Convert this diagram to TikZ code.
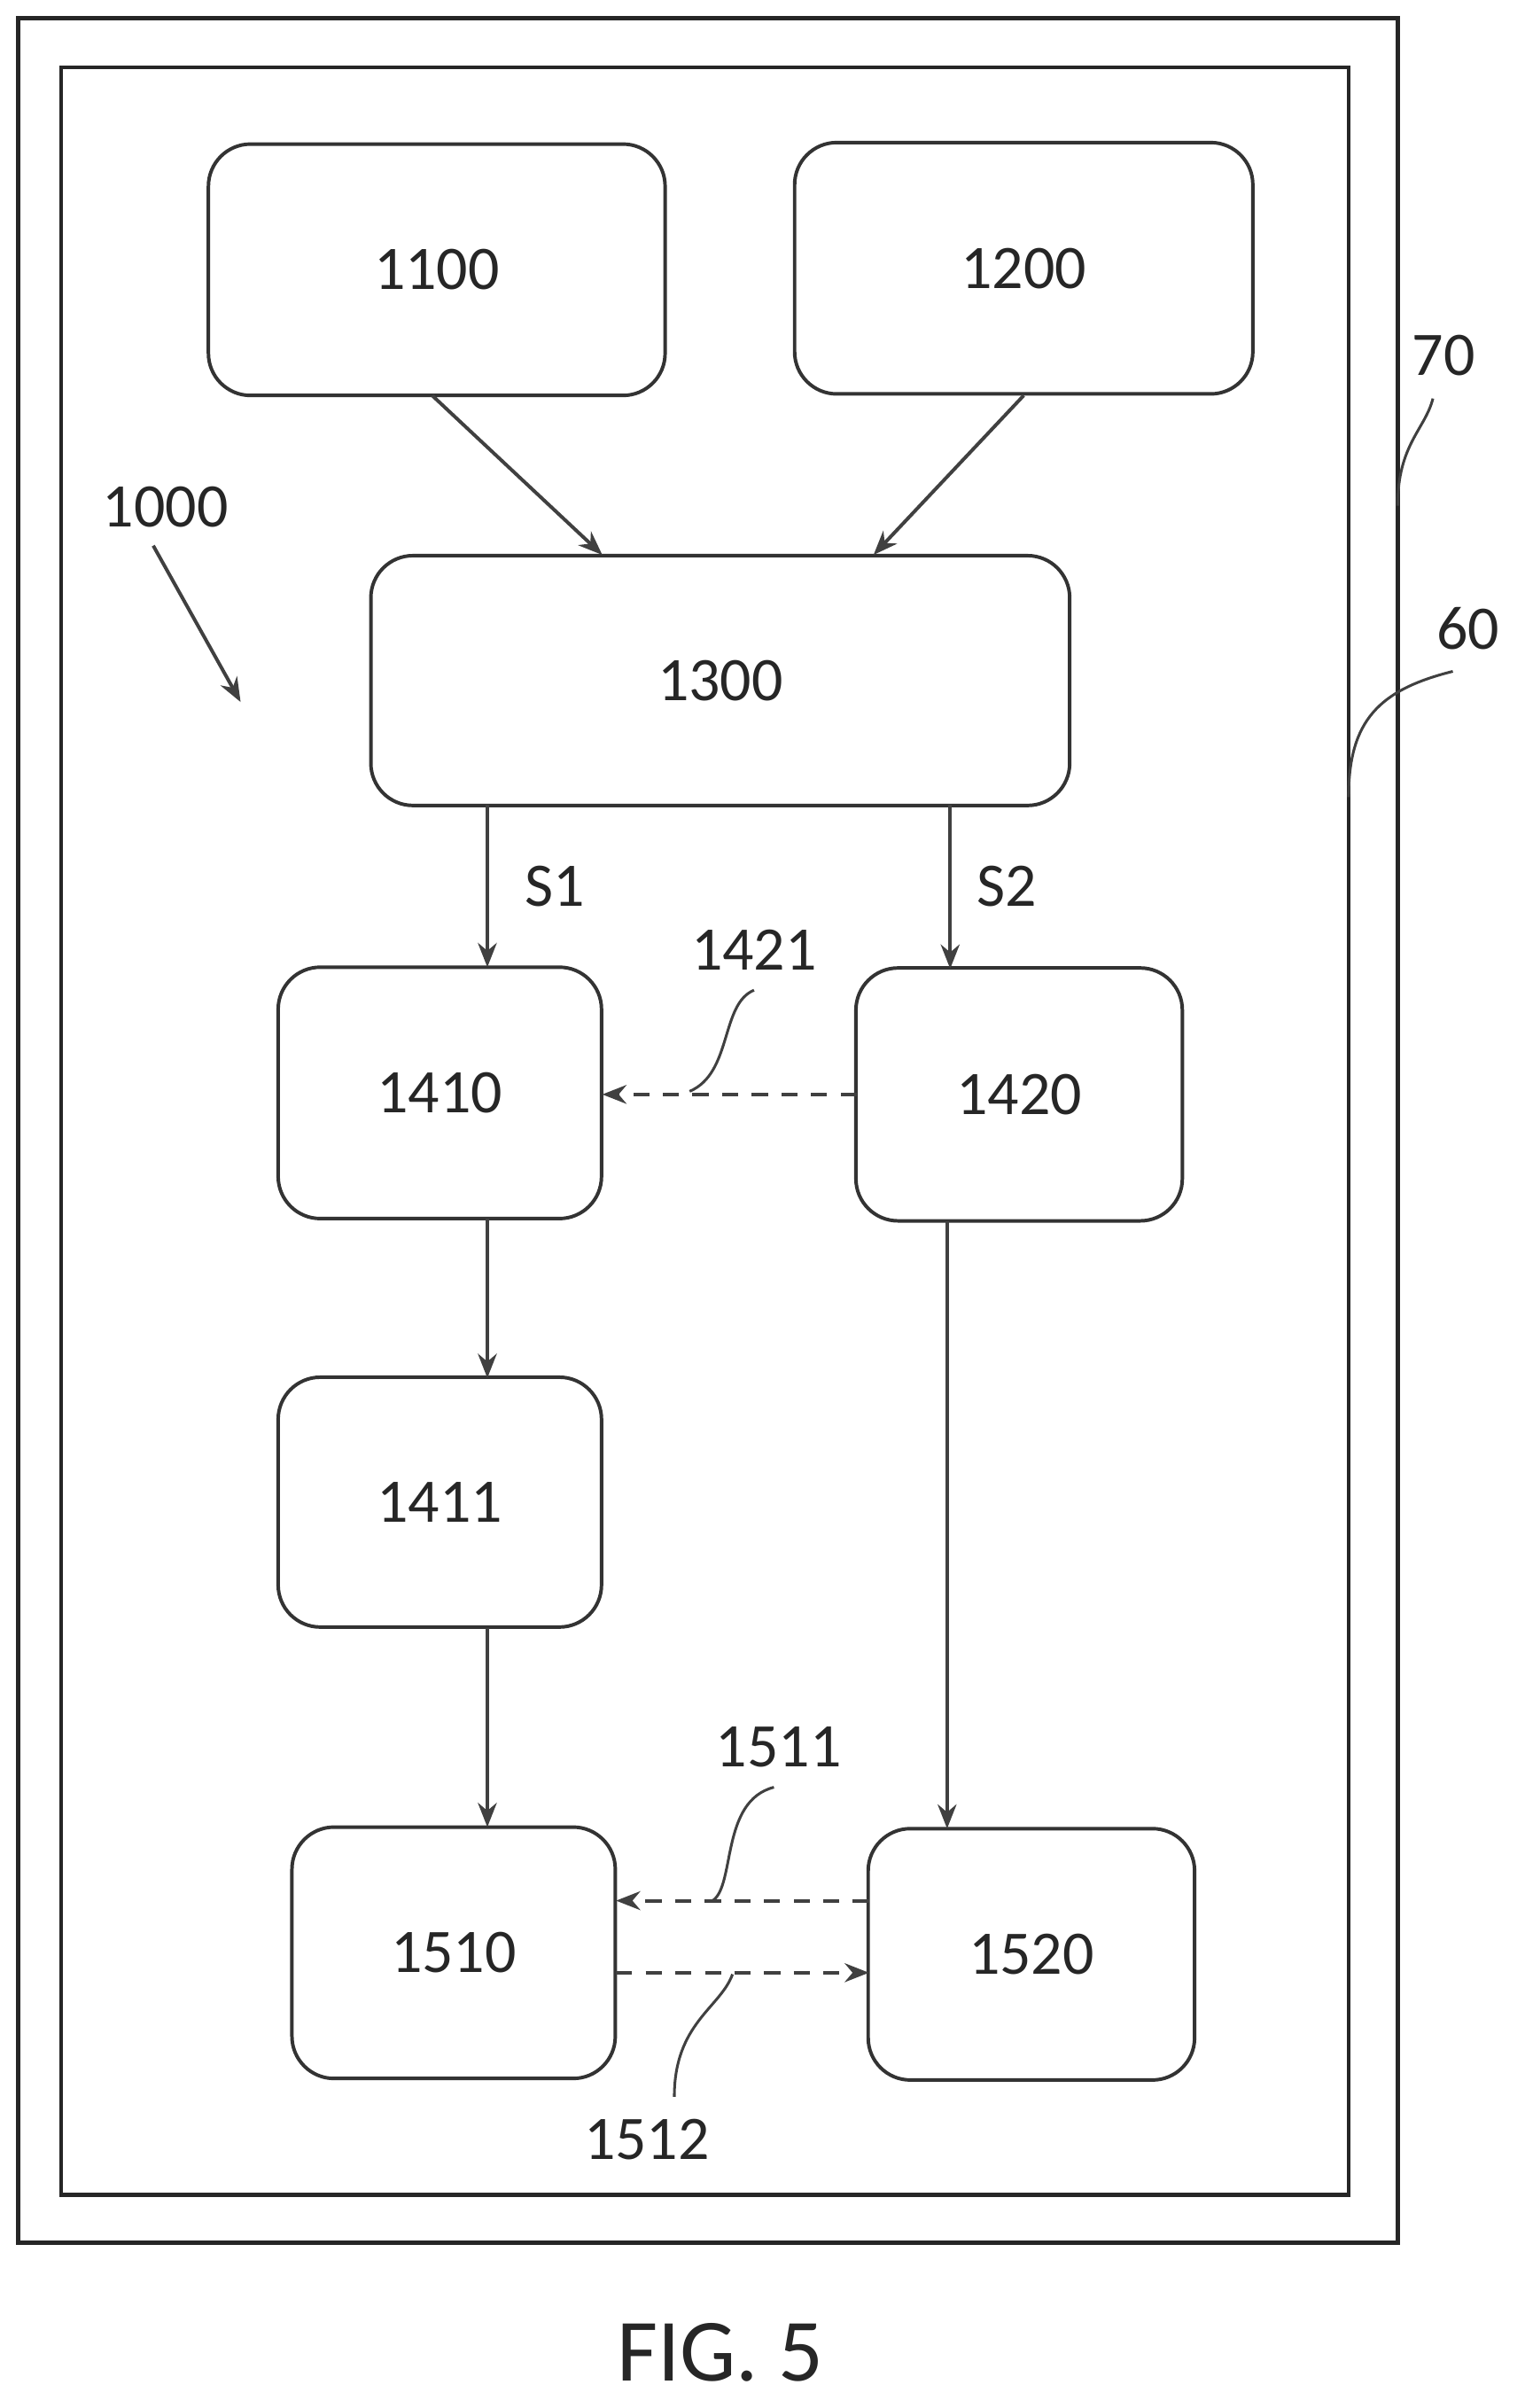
\documentclass[tikz,border=0pt]{standalone}
\usepackage{fontspec}
\setmainfont{Carlito}
\usetikzlibrary{arrows.meta}
\begin{document}
\begin{tikzpicture}[x=0.02cm,y=-0.02cm,
  box/.style={draw=black!80,line width=1.3pt,rounded corners=0.55cm},
  lbl/.style={font=\fontsize{23}{26}\selectfont,text=black!85},
  arr/.style={draw=black!75,line width=1.3pt,-{Stealth[length=9pt,width=7pt]}},
  darr/.style={arr,dash pattern=on 6pt off 5pt},
  lead/.style={draw=black!75,line width=1pt}]
\useasboundingbox (0,0) rectangle (995,1571);
\draw[line width=1.5pt,black!85] (12,12) rectangle (912,1463);
\draw[line width=1.5pt,black!85] (40,44) rectangle (880,1432);
\node[box,minimum width=298*0.02cm,minimum height=164*0.02cm,lbl] (a) at (285,176) {1100};
\node[box,minimum width=299*0.02cm,minimum height=164*0.02cm,lbl] (b) at (668,175) {1200};
\node[box,minimum width=456*0.02cm,minimum height=163*0.02cm,lbl] (c) at (470,444) {1300};
\node[box,minimum width=211*0.02cm,minimum height=164*0.02cm,lbl] (d) at (287,713) {1410};
\node[box,minimum width=213*0.02cm,minimum height=165*0.02cm,lbl] (e) at (665,714) {1420};
\node[box,minimum width=211*0.02cm,minimum height=163*0.02cm,lbl] (f) at (287,980) {1411};
\node[box,minimum width=211*0.02cm,minimum height=164*0.02cm,lbl] (g) at (296,1274) {1510};
\node[box,minimum width=213*0.02cm,minimum height=164*0.02cm,lbl] (h) at (673,1275) {1520};
\coordinate (a1) at (282,258); \coordinate (c1) at (393,362);
\coordinate (b1) at (668,258); \coordinate (c2) at (570,362);
\draw[arr] (a1) -- (c1);
\draw[arr] (b1) -- (c2);
\draw[arr] (318,525) -- (318,631) node[pos=0.5,right=10pt,lbl]{S1};
\draw[arr] (620,525) -- (620,632) node[pos=0.5,right=6pt,lbl]{S2};
\draw[darr] (559,714) -- (393,714);
\draw[arr] (318,795) -- (318,899);
\draw[arr] (318,1062) -- (318,1192);
\draw[arr] (618,797) -- (618,1193);
\draw[darr] (567,1240) -- (402,1240);
\draw[darr] (402,1287) -- (567,1287);
\node[lbl] (l1421) at (492,620) {1421};
\draw[lead] (492,646) .. controls (470,655) and (478,700) .. (450,712);
\node[lbl] (l1511) at (508,1140) {1511};
\draw[lead] (505,1166) .. controls (470,1175) and (480,1230) .. (465,1240);
\node[lbl] (l1512) at (422,1396) {1512};
\draw[lead] (478,1288) .. controls (470,1310) and (440,1320) .. (440,1368);
\node[lbl] (l1000) at (108,331) {1000};
\draw[arr] (100,356) -- (157,458);
\node[lbl] (l70) at (942,232) {70};
\draw[lead] (935,260) .. controls (930,280) and (912,290) .. (912,330);
\node[lbl] (l60) at (958,410) {60};
\draw[lead] (948,438) .. controls (900,450) and (880,470) .. (880,520);
\node[font=\fontsize{33}{36}\selectfont,text=black!85] (fig) at (470,1535) {FIG. 5};
\end{tikzpicture}
\end{document}
